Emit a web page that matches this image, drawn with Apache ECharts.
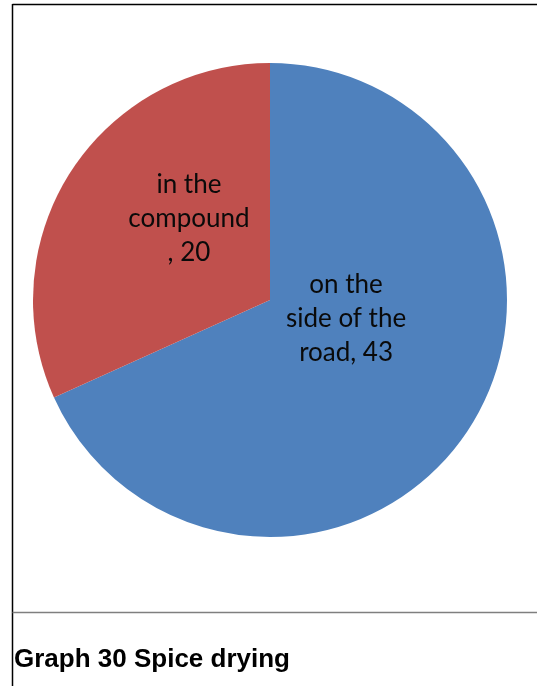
<!DOCTYPE html>
<html>
<head>
<meta charset="utf-8">
<style>
  html, body { margin: 0; padding: 0; background: #ffffff; }
  #chart { width: 537px; height: 686px; }
</style>
<script src="https://cdn.jsdelivr.net/npm/echarts@6/dist/echarts.min.js"></script>
</head>
<body>
<div id="chart"></div>
<script>
// Where spices are dried (number of responses)
const categories = ['on the side of the road', 'in the compound'];
const values = [43, 20];
// How each category name is wrapped inside its slice
const wrappedNames = ['on the\nside of the\nroad', 'in the\ncompound\n'];
const colors = ['#4F81BD', '#C0504D'];
const titleText = 'Graph 30 Spice drying';

const chart = echarts.init(document.getElementById('chart'), null, { renderer: 'canvas' });

const pieData = categories.map((name, i) => ({
  name: name,
  value: values[i],
  itemStyle: { color: colors[i] }
}));

chart.setOption({
  animation: false,
  backgroundColor: '#ffffff',
  title: {
    text: titleText,
    left: 9,
    top: 642,
    textStyle: {
      fontFamily: 'Liberation Sans, Arial, sans-serif',
      fontWeight: 'bold',
      fontSize: 26,
      color: '#000000'
    }
  },
  graphic: [
    { type: 'line', shape: { x1: 12.5, y1: 4.5, x2: 540, y2: 4.5 }, style: { stroke: '#000000', lineWidth: 1.5 } },
    { type: 'line', shape: { x1: 12.5, y1: 4, x2: 12.5, y2: 686 }, style: { stroke: '#000000', lineWidth: 1.5 } },
    { type: 'line', shape: { x1: 12.5, y1: 612.5, x2: 540, y2: 612.5 }, style: { stroke: '#7f7f7f', lineWidth: 1.5 } }
  ],
  series: [{
    type: 'pie',
    center: [270, 300],
    radius: 237,
    startAngle: 90,
    clockwise: true,
    data: pieData,
    itemStyle: { borderWidth: 0 },
    label: {
      show: true,
      position: 'inside',
      fontFamily: 'Lato, sans-serif',
      fontSize: 26,
      lineHeight: 34,
      color: '#0a0a0a',
      align: 'center',
      formatter: (p) => wrappedNames[p.dataIndex] + ', ' + p.value
    },
    labelLayout: (p) => (p.dataIndex === 0 ? { dx: -26, dy: -47 } : { dx: 21, dy: -15 }),
    emphasis: { disabled: true }
  }]
});
</script>
</body>
</html>
